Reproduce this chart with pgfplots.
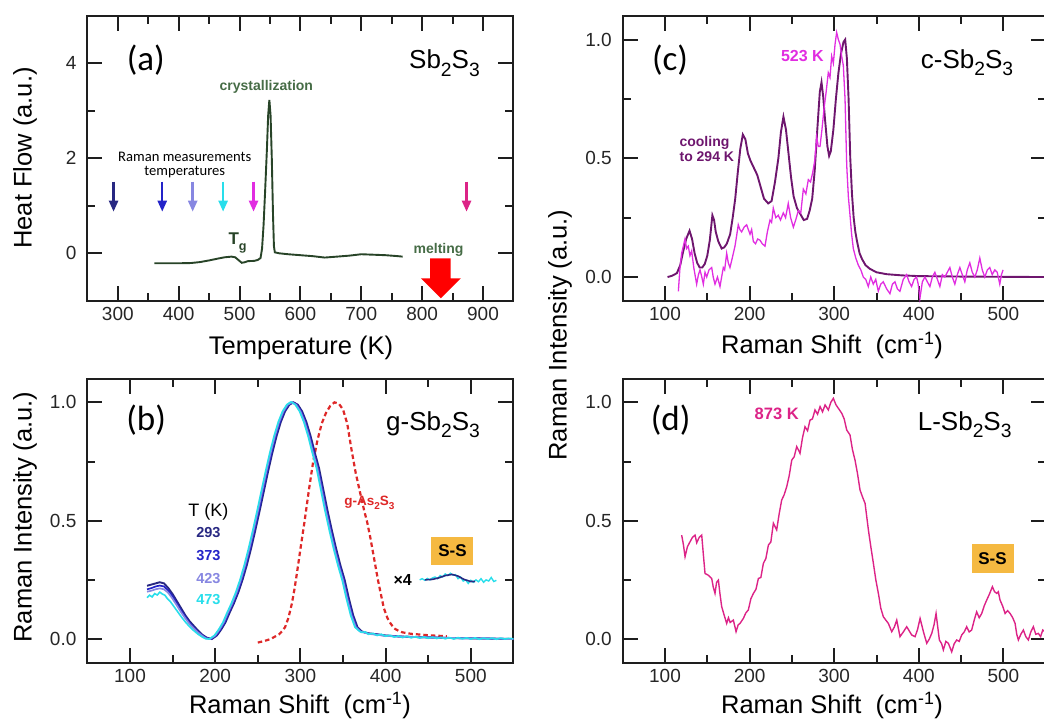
\documentclass[border=0pt]{standalone}
\usepackage{pgfplots}
\pgfplotsset{compat=1.18}
\usepackage{fontspec}
\setmainfont{Liberation Sans}
\newfontfamily\cali{Carlito}
\usetikzlibrary{arrows.meta}
\newcommand\fs[1]{\fontsize{#1}{#1}\selectfont}
\newcommand\sbs[1]{\raisebox{-0.3em}{\scalebox{0.74}{#1}}}
\definecolor{dscline}{RGB}{40,68,40}
\definecolor{dsclab}{RGB}{70,108,70}
\definecolor{tnavy}{RGB}{40,40,130}
\definecolor{tblue}{RGB}{35,35,200}
\definecolor{tlav}{RGB}{135,135,225}
\definecolor{tcyan}{RGB}{40,222,235}
\definecolor{tmag}{RGB}{225,45,225}
\definecolor{tpink}{RGB}{220,35,135}
\definecolor{tpurp}{RGB}{110,22,110}
\definecolor{tred}{RGB}{222,40,40}
\definecolor{ssbox}{RGB}{245,185,65}
\definecolor{axc}{RGB}{30,30,30}
\tikzset{tarrow/.style={line width=2.4pt, -{Triangle[length=11pt,width=9pt]}},
  tk/.style={line width=2pt, draw=axc}}
% tick marks on all four sides of a panel: #1 xmin, #2 xmax, #3 ymin, #4 ymax, #5 major x, #6 minor x, #7 major y, #8 minor y
\newcommand\panelticks[8]{%
  \pgfplotsinvokeforeach{#5}{\draw[tk] (axis cs:##1,#3) -- ([yshift=15pt]axis cs:##1,#3); \draw[tk] (axis cs:##1,#4) -- ([yshift=-15pt]axis cs:##1,#4);}%
  \pgfplotsinvokeforeach{#6}{\draw[tk] (axis cs:##1,#3) -- ([yshift=8pt]axis cs:##1,#3); \draw[tk] (axis cs:##1,#4) -- ([yshift=-8pt]axis cs:##1,#4);}%
  \pgfplotsinvokeforeach{#7}{\draw[tk] (axis cs:#1,##1) -- ([xshift=15pt]axis cs:#1,##1); \draw[tk] (axis cs:#2,##1) -- ([xshift=-15pt]axis cs:#2,##1);}%
  \pgfplotsinvokeforeach{#8}{\draw[tk] (axis cs:#1,##1) -- ([xshift=8pt]axis cs:#1,##1); \draw[tk] (axis cs:#2,##1) -- ([xshift=-8pt]axis cs:#2,##1);}%
}
\newcommand\ramanticks{\panelticks{50}{550}{-0.1}{1.1}{100,200,300,400,500}{150,250,350,450}{0,0.5,1}{0.25,0.75}}
\pgfplotsset{
  panel/.style={
    scale only axis, anchor=south west, clip=false,
    axis line style={line width=1.9pt, draw=axc},
    tick style={line width=2pt, color=axc},
    major tick length=15pt, minor tick length=8pt,
    tick align=inside, xtick pos=both, ytick pos=both,
    ticklabel style={font=\fs{19}, text=black!85},
    /pgf/number format/assume math mode=true,
    xticklabel style={yshift=-3pt},
    yticklabel style={xshift=-7.5pt},
  },
  raman/.style={panel,
    xmin=50, xmax=550, ymin=-0.1, ymax=1.1,
    xtick={100,200,300,400,500}, minor xtick={150,250,350,450},
    ytick={0,0.5,1}, minor ytick={0.25,0.75},
    yticklabel style={/pgf/number format/.cd, fixed, fixed zerofill, precision=1},
  },
}
\begin{document}
\begin{tikzpicture}
\path[use as bounding box] (0,0) rectangle (1044pt,722pt);

% ---------------- (a) ----------------
\begin{axis}[panel, at={(87.4pt,421.2pt)}, width=426pt, height=285pt,
  xmin=250, xmax=950, ymin=-1, ymax=5,
  xtick={300,400,...,900}, minor xtick={350,450,...,850},
  ytick={0,2,4}, minor ytick={1,3}]
\panelticks{250}{950}{-1}{5}{300,400,500,600,700,800,900}{350,450,550,650,750,850}{0,2,4}{1,3}
\addplot[dscline, line width=1.9pt, mark=none] coordinates {
(360,-0.21)(380,-0.21)(400,-0.21)(420,-0.205)(435,-0.185)(450,-0.15)(465,-0.11)(475,-0.085)(487,-0.07)(493,-0.085)(498,-0.14)(503.6,-0.2)(508,-0.19)(514,-0.165)(524,-0.16)(530,-0.14)(534.5,-0.1)(537,0.1)(539.5,0.6)(542,1.3)(545,2.2)(547,2.9)(549,3.23)(551,2.9)(553,2.0)(555,0.8)(556.5,0.15)(558,0.02)(565,0.0)(580,-0.02)(600,-0.04)(620,-0.06)(640,-0.09)(660,-0.07)(680,-0.05)(700,-0.02)(720,-0.03)(740,-0.04)(760,-0.06)(768,-0.07)};
\addplot[fill=red, draw=none, mark=none] coordinates {
(813,-0.105)(847,-0.105)(847,-0.526)(863.7,-0.526)(830.8,-0.947)(798,-0.526)(813,-0.526)(813,-0.105)};
\draw[tnavy, tarrow] (axis cs:293,1.51) -- (axis cs:293,0.876);
\draw[tblue, tarrow] (axis cs:373,1.51) -- (axis cs:373,0.876);
\draw[tlav, tarrow] (axis cs:423,1.51) -- (axis cs:423,0.876);
\draw[tcyan, tarrow] (axis cs:473,1.51) -- (axis cs:473,0.876);
\draw[tmag, tarrow] (axis cs:523,1.51) -- (axis cs:523,0.876);
\draw[tpink, tarrow] (axis cs:873,1.51) -- (axis cs:873,0.876);
\node[font=\cali\fs{35}, anchor=base] at (axis cs:346,3.85) {(a)};
\node[font=\fs{26}, anchor=base east, inner sep=0pt] at (axis cs:895,3.89) {Sb\sbs{2}S\sbs{3}};
\node[font=\bfseries\fs{14}, text=dsclab, anchor=base] at (axis cs:544,3.42) {crystallization};
\node[font=\cali\fontsize{14.6}{14}\selectfont, align=center, inner sep=0pt] at (axis cs:410,1.85) {Raman measurements\\temperatures};
\node[font=\bfseries\fs{17}, text=dscline, anchor=base west, inner sep=0pt] at (axis cs:481.7,0.175) {T\sbs{g}};
\node[font=\bfseries\fs{14}, text=dsclab, anchor=base] at (axis cs:827,0.0) {melting};
\end{axis}

% ---------------- (c) ----------------
\begin{axis}[raman, at={(622.7pt,421.2pt)}, width=423pt, height=285pt]
\ramanticks
\addplot[tpurp, line width=1.9pt, mark=none] coordinates {
(103,0.0)(108,0.005)(114,0.016)(118,0.05)(121,0.10)(125,0.16)(129,0.195)(132,0.16)(135,0.10)(138,0.06)(141,0.04)(144,0.04)(147,0.055)(150,0.09)(153,0.156)(156,0.26)(158,0.24)(160,0.19)(163,0.15)(167,0.12)(170,0.125)(173,0.14)(177,0.18)(180,0.25)(183,0.33)(186,0.44)(189,0.54)(192,0.60)(195,0.58)(198,0.52)(201,0.49)(205,0.46)(209,0.43)(213,0.38)(217,0.33)(222,0.31)(226,0.32)(230,0.40)(234,0.50)(237,0.61)(240,0.675)(243,0.62)(246,0.52)(249,0.42)(252,0.34)(256,0.29)(260,0.265)(264,0.24)(268,0.245)(271,0.28)(274,0.33)(277,0.45)(280,0.62)(283,0.78)(285,0.82)(287,0.76)(289,0.67)(292,0.55)(294,0.51)(296,0.53)(299,0.62)(302,0.75)(305,0.86)(308,0.94)(311,0.99)(313,1.0)(315,0.92)(317,0.75)(319,0.50)(321,0.35)(323,0.25)(325,0.19)(327,0.15)(330,0.10)(333,0.075)(337,0.05)(342,0.035)(350,0.02)(362,0.012)(380,0.007)(400,0.004)(450,0.002)(500,0.001)(550,0.0)};
\addplot[tmag, line width=1.3pt, mark=none] coordinates {
(115.8,-0.06)(117.5,0.03)(119.7,0.10)(123.6,0.16)(125.5,0.12)(127.5,0.13)(129.5,0.09)(131.5,0.11)(134,0.04)(137.4,-0.03)(139.5,0.01)(141.4,0.03)(143.5,0.0)(145.3,-0.03)(147.3,0.02)(149.3,0.0)(152,0.03)(155.2,0.04)(157,0.0)(159.1,-0.03)(162,0.0)(165,-0.04)(168.9,0.04)(170.5,0.03)(172.9,0.10)(174.8,0.06)(176.8,0.04)(179.5,0.08)(182.7,0.13)(184.5,0.17)(186.6,0.22)(188.5,0.2)(190.6,0.19)(193.5,0.21)(196.5,0.22)(198.5,0.2)(200.5,0.18)(202.4,0.2)(204.4,0.15)(207,0.14)(209.5,0.16)(212.3,0.155)(215,0.14)(218.2,0.13)(221,0.19)(224.1,0.24)(226,0.23)(228,0.29)(231,0.25)(233.9,0.26)(236.5,0.24)(239.8,0.27)(242.5,0.25)(245.7,0.31)(248.5,0.25)(251.7,0.21)(254.5,0.24)(257.6,0.28)(260.5,0.27)(263.5,0.37)(266.5,0.35)(269.4,0.41)(272,0.40)(274.6,0.44)(277,0.49)(279.3,0.59)(281.2,0.55)(283.2,0.55)(285.5,0.62)(288,0.71)(290.5,0.78)(293,0.86)(295,0.84)(297,0.93)(299,0.9)(301,0.98)(302.9,1.03)(304.9,1.0)(306.9,0.98)(308.8,0.93)(310.8,0.89)(312.8,0.75)(314.8,0.47)(316.7,0.34)(318.7,0.26)(320.6,0.18)(322.6,0.12)(325.5,0.08)(328.5,0.05)(331.5,0.03)(334.4,0.0)(337.3,-0.01)(340.3,-0.04)(343.2,0.0)(346.2,-0.03)(349.1,-0.01)(352.1,-0.06)(355,-0.03)(358,-0.02)(362,-0.05)(365.9,-0.07)(368.8,-0.03)(371.8,-0.02)(374.7,-0.05)(377.7,-0.06)(381.6,-0.01)(385.6,0.01)(388.5,-0.02)(391.5,-0.04)(394.4,-0.01)(397.4,0.0)(399.3,-0.03)(401.3,-0.09)(404.2,-0.02)(407.2,0.0)(410.1,-0.02)(413.1,-0.04)(416,0.0)(419,0.02)(422,-0.01)(424.9,-0.04)(427.8,0.01)(430.8,0.0)(433.7,0.02)(436.7,0.04)(439.6,0.0)(442.6,-0.03)(445.5,0.01)(448.5,0.04)(451.4,0.01)(454.4,-0.02)(457.3,0.03)(460.3,0.06)(463.2,0.02)(466.2,0.0)(469.1,0.03)(472.1,0.08)(475,0.03)(478,0.0)(481,0.03)(483.9,0.04)(486.8,0.01)(489.8,0.03)(492.7,0.02)(495.7,-0.03)(497.7,0.01)(499.6,0.03)};
\node[font=\cali\fs{35}, anchor=base] at (axis cs:106,0.87) {(c)};
\node[font=\fs{26}, anchor=base east, inner sep=0pt] at (axis cs:511.8,0.88) {c-Sb\sbs{2}S\sbs{3}};
\node[font=\bfseries\fs{16}, text=tmag, anchor=base] at (axis cs:262.4,0.906) {523 K};
\node[font=\bfseries\fs{14}, text=tpurp, anchor=base west, inner sep=0pt] at (axis cs:117,0.55) {cooling};
\node[font=\bfseries\fs{14}, text=tpurp, anchor=base west, inner sep=0pt] at (axis cs:117,0.485) {to 294 K};
\end{axis}

% ---------------- (b) ----------------
\begin{axis}[raman, at={(87.4pt,59.3pt)}, width=426pt, height=284pt]
\ramanticks
\addplot[tred, line width=2.2pt, dash pattern=on 4.5pt off 3pt, mark=none] coordinates {
(250,-0.015)(258,-0.008)(265,0.0)(270,0.01)(275,0.02)(279,0.035)(282,0.05)(286,0.09)(290,0.15)(293,0.21)(296,0.28)(300,0.38)(305,0.5)(310,0.63)(315,0.75)(320,0.84)(325,0.91)(330,0.955)(335,0.985)(340,1.0)(345,0.995)(350,0.97)(355,0.91)(360,0.8)(365,0.7)(370,0.62)(375,0.54)(378,0.5)(382,0.43)(386,0.35)(391,0.25)(395,0.18)(398,0.13)(402,0.09)(405,0.07)(410,0.045)(415,0.035)(420,0.028)(430,0.022)(440,0.019)(450,0.016)(460,0.014)(472,0.012)};
\addplot[tnavy, line width=1.9pt, mark=none] coordinates {
(120,0.225)(125,0.23)(130,0.235)(135,0.24)(140,0.235)(145,0.215)(150,0.19)(155,0.16)(160,0.13)(165,0.10)(170,0.075)(175,0.055)(180,0.035)(185,0.018)(190,0.006)(196,0.0)(202,0.015)(207,0.04)(212,0.07)(217,0.112)(222,0.151)(227,0.196)(232,0.249)(237,0.311)(242,0.381)(247,0.458)(252,0.539)(257,0.623)(262,0.707)(267,0.786)(272,0.857)(277,0.917)(282,0.962)(287,0.99)(292,1.0)(297,0.99)(302,0.962)(307,0.917)(312,0.857)(317,0.786)(322,0.72)(327,0.63)(332,0.54)(337,0.458)(342,0.381)(347,0.311)(352,0.249)(357,0.17)(362,0.10)(367,0.05)(372,0.032)(380,0.024)(390,0.02)(400,0.015)(420,0.01)(440,0.008)(460,0.006)(480,0.004)(500,0.003)(520,0.002)(550,0.0)};
\addplot[tblue, line width=1.7pt, mark=none] coordinates {
(120,0.21)(125,0.215)(130,0.222)(135,0.226)(140,0.222)(145,0.205)(150,0.18)(155,0.15)(160,0.12)(165,0.093)(170,0.068)(175,0.048)(180,0.03)(185,0.015)(190,0.004)(195,0.0)(201,0.015)(206,0.04)(211,0.07)(216,0.112)(221,0.151)(226,0.196)(231,0.249)(236,0.311)(241,0.381)(246,0.458)(251,0.539)(256,0.623)(261,0.707)(266,0.786)(271,0.857)(276,0.917)(281,0.962)(286,0.99)(291,1.0)(296,0.99)(301,0.962)(306,0.917)(311,0.857)(316,0.786)(321,0.72)(326,0.63)(331,0.54)(336,0.458)(341,0.381)(346,0.311)(351,0.249)(356,0.17)(361,0.10)(366,0.05)(371,0.032)(380,0.023)(390,0.019)(400,0.014)(420,0.01)(440,0.008)(460,0.006)(480,0.004)(500,0.003)(520,0.002)(550,0.0)};
\addplot[tlav, line width=1.7pt, mark=none] coordinates {
(120,0.2)(125,0.204)(130,0.21)(135,0.214)(140,0.21)(145,0.195)(150,0.17)(155,0.142)(160,0.113)(165,0.087)(170,0.063)(175,0.044)(180,0.027)(185,0.013)(189,0.003)(194,0.0)(200,0.015)(205,0.04)(210,0.07)(215,0.112)(220,0.151)(225,0.196)(230,0.249)(235,0.311)(240,0.381)(245,0.458)(250,0.539)(255,0.623)(260,0.707)(265,0.786)(270,0.857)(275,0.917)(280,0.962)(285,0.99)(290,1.0)(295,0.99)(300,0.962)(305,0.917)(310,0.857)(315,0.786)(320,0.72)(325,0.63)(330,0.54)(335,0.458)(340,0.381)(345,0.311)(350,0.249)(355,0.17)(360,0.10)(365,0.05)(370,0.032)(380,0.022)(390,0.018)(400,0.013)(420,0.01)(440,0.008)(460,0.006)(480,0.004)(500,0.003)(520,0.002)(550,0.0)};
\addplot[tcyan, line width=1.6pt, mark=none] coordinates {
(120,0.175)(123,0.185)(126,0.178)(129,0.192)(132,0.186)(135,0.198)(138,0.19)(141,0.185)(144,0.17)(147,0.16)(150,0.145)(155,0.12)(160,0.095)(165,0.072)(170,0.052)(175,0.035)(180,0.02)(185,0.008)(189,0.001)(193,0.0)(199,0.015)(204,0.04)(209,0.07)(214,0.112)(219,0.151)(224,0.196)(229,0.249)(234,0.311)(239,0.381)(244,0.458)(249,0.539)(254,0.623)(259,0.707)(264,0.786)(269,0.857)(274,0.917)(279,0.962)(284,0.99)(287,0.998)(289,1.002)(291,0.998)(294,0.99)(299,0.962)(304,0.917)(309,0.857)(314,0.786)(319,0.72)(324,0.63)(329,0.54)(334,0.458)(339,0.381)(344,0.311)(349,0.249)(354,0.17)(359,0.10)(364,0.05)(369,0.034)(372,0.028)(376,0.03)(380,0.02)(385,0.024)(390,0.015)(395,0.02)(400,0.012)(405,0.016)(410,0.008)(415,0.013)(420,0.006)(425,0.012)(430,0.005)(435,0.01)(440,0.004)(445,0.009)(450,0.003)(455,0.008)(460,0.002)(465,0.007)(470,0.001)(475,0.006)(480,0.0)(485,0.006)(490,0.001)(495,0.005)(500,0.0)(505,0.005)(510,-0.001)(515,0.004)(520,0.0)(525,0.004)(530,-0.001)(535,0.004)(540,0.0)(545,0.003)(550,0.001)};
% x4 section
\addplot[tcyan, line width=1.4pt, mark=none] coordinates {
(440,0.25)(443,0.255)(446,0.248)(449,0.256)(452,0.25)(455,0.258)(458,0.262)(461,0.255)(464,0.268)(467,0.262)(470,0.275)(473,0.268)(476,0.278)(479,0.27)(482,0.272)(485,0.255)(488,0.262)(491,0.245)(494,0.25)(497,0.235)(500,0.248)(503,0.24)(506,0.25)(509,0.242)(512,0.255)(515,0.24)(518,0.25)(521,0.245)(524,0.26)(527,0.243)(530,0.248)};
\addplot[tnavy, line width=1.6pt, mark=none] coordinates {
(446,0.25)(455,0.252)(462,0.258)(470,0.268)(478,0.273)(485,0.266)(492,0.252)(500,0.243)(505,0.243)};
\node[font=\cali\fs{35}, anchor=base] at (axis cs:119,0.883) {(b)};
\node[font=\fs{26}, anchor=base east, inner sep=0pt] at (axis cs:510.8,0.883) {g-Sb\sbs{2}S\sbs{3}};
\node[font=\fs{18}, anchor=base] at (axis cs:192,0.517) {T (K)};
\node[font=\bfseries\fs{14.5}, text=tnavy, anchor=base] at (axis cs:192,0.43) {293};
\node[font=\bfseries\fs{14.5}, text=tblue, anchor=base] at (axis cs:192,0.331) {373};
\node[font=\bfseries\fs{14.5}, text=tlav, anchor=base] at (axis cs:192,0.235) {423};
\node[font=\bfseries\fs{14.5}, text=tcyan, anchor=base] at (axis cs:192,0.144) {473};
\node[font=\bfseries\fs{13.5}, text=tred, anchor=base] at (axis cs:381,0.563) {g-As\sbs{2}S\sbs{3}};
\node[fill=ssbox, minimum width=42pt, minimum height=28pt, inner sep=0pt, font=\bfseries\fs{17}] at (axis cs:478.5,0.373) {S-S};
\node[font=\bfseries\fs{16}] at (axis cs:420,0.249) {\symbol{"00D7}4};
\end{axis}

% ---------------- (d) ----------------
\begin{axis}[raman, at={(622.7pt,59.3pt)}, width=423pt, height=284pt]
\ramanticks
\addplot[tpink, line width=1.4pt, mark=none] coordinates {
(119.7,0.439)(121.7,0.40)(123.7,0.348)(126.5,0.39)(129.6,0.411)(132.5,0.43)(135.5,0.439)(137.5,0.407)(140.5,0.43)(143.4,0.439)(145.5,0.35)(147.3,0.277)(151,0.27)(155.2,0.256)(157,0.22)(159.1,0.193)(161,0.24)(163.1,0.249)(165,0.19)(167,0.137)(170,0.10)(172.9,0.066)(175,0.09)(177,0.07)(180.8,0.080)(184,0.031)(186.5,0.06)(188.7,0.066)(192.6,0.087)(195.5,0.11)(198.5,0.123)(201.5,0.17)(204.5,0.193)(207.5,0.21)(210.4,0.256)(213.3,0.26)(216.3,0.320)(219.2,0.34)(222.2,0.397)(225.1,0.41)(228.1,0.489)(232,0.461)(235,0.53)(237.9,0.587)(240.9,0.61)(243.9,0.644)(246.8,0.69)(249.8,0.756)(252.7,0.77)(255.7,0.813)(259.6,0.785)(262.5,0.85)(265.5,0.897)(268.5,0.88)(271.4,0.925)(274.3,0.93)(277.3,0.968)(280.3,0.95)(283.3,0.982)(286.2,0.96)(289.2,0.989)(293.1,0.968)(296,1.0)(299,1.017)(302,0.99)(304.9,0.975)(308.9,0.954)(311.8,0.93)(314.8,0.883)(318.7,0.862)(321.6,0.8)(324.6,0.756)(327.5,0.7)(330.5,0.630)(333.5,0.6)(336.5,0.573)(340.4,0.461)(343.3,0.39)(346.3,0.320)(349.2,0.25)(352.2,0.193)(355.1,0.13)(358.1,0.094)(361,0.08)(364,0.066)(368,0.031)(371,0.05)(373.9,0.080)(377.8,0.010)(381.7,0.03)(385.7,0.052)(388.6,0.035)(391.6,0.017)(395.6,0.010)(398.5,0.04)(401.5,0.087)(405.5,0.03)(409.4,-0.018)(412.4,0.0)(415.3,0.024)(418,0.06)(420.4,0.108)(424.3,-0.004)(427,-0.02)(429,-0.046)(432,-0.01)(434.9,-0.018)(438.9,-0.054)(441.8,-0.02)(444.8,-0.004)(447.8,-0.01)(450.7,0.017)(453.7,0.03)(456.6,0.052)(459.5,0.03)(462.5,0.038)(465.5,0.08)(468.4,0.115)(471.4,0.09)(474.4,0.108)(477.3,0.14)(480.3,0.165)(483.5,0.19)(487,0.221)(489.5,0.2)(492.1,0.193)(494,0.2)(496,0.165)(499,0.14)(502,0.108)(505,0.12)(507.9,0.108)(511,0.09)(513.8,0.066)(515.8,0.02)(517.7,-0.004)(520.6,0.02)(523.6,0.038)(526.5,0.01)(529.5,-0.004)(532.4,0.03)(535.4,0.052)(538.3,0.02)(541.3,0.024)(544,0.01)(546.5,0.038)(549.5,0.03)};
\node[font=\cali\fs{35}, anchor=base] at (axis cs:106.7,0.883) {(d)};
\node[font=\fs{26}, anchor=base east, inner sep=0pt] at (axis cs:509.8,0.883) {L-Sb\sbs{2}S\sbs{3}};
\node[font=\bfseries\fs{16.5}, text=tpink, anchor=base] at (axis cs:232,0.928) {873 K};
\node[fill=ssbox, minimum width=42pt, minimum height=29pt, inner sep=0pt, font=\bfseries\fs{17}] at (axis cs:487.2,0.339) {S-S};
\end{axis}

% axis titles
\node[font=\fs{25.5}, anchor=base] at (301pt,367pt) {Temperature (K)};
\node[font=\fs{25.5}, anchor=base] at (832pt,368pt) {Raman Shift\ \ (cm\textsuperscript{-1})};
\node[font=\fs{25.5}, anchor=base] at (300pt,8pt) {Raman Shift\ \ (cm\textsuperscript{-1})};
\node[font=\fs{25.5}, anchor=base] at (832pt,8pt) {Raman Shift\ \ (cm\textsuperscript{-1})};
\node[font=\fs{25.5}, rotate=90] at (25pt,564pt) {Heat Flow (a.u.)};
\node[font=\fs{25.5}, rotate=90] at (25pt,205pt) {Raman Intensity (a.u.)};
\node[font=\fs{25.5}, rotate=90] at (560pt,387pt) {Raman Intensity (a.u.)};
\end{tikzpicture}
\end{document}
